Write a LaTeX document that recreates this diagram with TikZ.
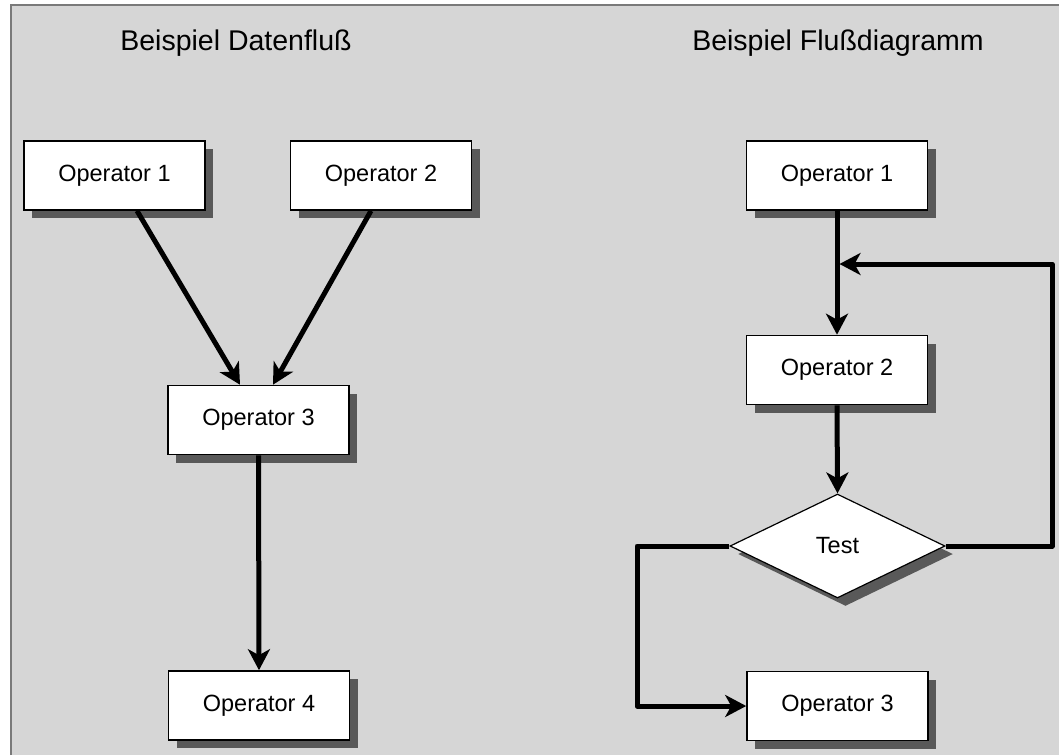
\documentclass[tikz,border=0pt]{standalone}
\usepackage{fontspec}
\setmainfont{Liberation Sans}
\usetikzlibrary{arrows.meta,shapes.geometric,shadows,calc}
\definecolor{panelgray}{HTML}{D6D6D6}
\definecolor{framegray}{HTML}{7A7A7A}
\definecolor{shadowgray}{HTML}{595959}
% box labels sit slightly below the geometric centre
\newcommand\boxlabel[1]{\raisebox{-2pt}{#1}}
\tikzset{
  opbox/.style={draw=black, line width=1.6pt, fill=white, rectangle,
    minimum width=181pt, minimum height=69pt, inner sep=0pt,
    font=\fontsize{23.5}{27}\selectfont,
    drop shadow={shadow xshift=8pt, shadow yshift=-8pt, fill=shadowgray, opacity=1}},
  testbox/.style={draw=black, line width=1.2pt, fill=white, diamond, aspect=2,
    minimum width=215pt, minimum height=104pt, inner sep=0pt,
    font=\fontsize{23.5}{27}\selectfont,
    drop shadow={shadow xshift=8pt, shadow yshift=-8pt, fill=shadowgray, opacity=1}},
  title/.style={font=\fontsize{28.5}{32}\selectfont},
  flow/.style={line width=5pt, line join=round,
    -{Stealth[length=21pt,width=22pt,inset=6pt]}}
}
\begin{document}
\begin{tikzpicture}[x=1pt,y=-1pt]
\useasboundingbox (0,0) rectangle (1059,755);
% panel
\fill[panelgray] (11,5) rectangle (1059,755);
\draw[framegray, line width=2pt] (11,755) -- (11,5) -- (1059,5);

% titles
\node[title] (t1) at (236,43) {Beispiel Datenfluß};
\node[title] (t2) at (838,43) {Beispiel Flußdiagramm};

% data flow
\node[opbox] (a1) at (114.5,175.5) {\boxlabel{Operator 1}};
\node[opbox] (a2) at (381,175.5) {\boxlabel{Operator 2}};
\node[opbox] (a3) at (258.5,420) {\boxlabel{Operator 3}};
\node[opbox] (a4) at (259,705.5) {\boxlabel{Operator 4}};

\draw[flow] ([xshift=22.5pt]a1.south) -- ([xshift=-18.5pt]a3.north);
\draw[flow] ([xshift=-10pt]a2.south) -- ([xshift=14.5pt]a3.north);
\draw[flow] (a3.south) -- (a4.north);

% flow chart
\node[opbox] (b1) at (837,175.5) {\boxlabel{Operator 1}};
\node[opbox] (b2) at (837,370) {\boxlabel{Operator 2}};
\node[testbox] (bt) at (837.5,546) {\boxlabel{Test}};
\node[opbox] (b3) at (837.5,706) {\boxlabel{Operator 3}};

\coordinate (loopR) at (1052,546);
\coordinate (loopT) at (1052,264);
\coordinate (loopIn) at (839.5,264);
\coordinate (elseL) at (637,546);
\coordinate (elseB) at (637,706);

\draw[flow] (b1.south) -- (b2.north);
\draw[flow] (b2.south) -- (bt.north);
\draw[flow] (bt.east) -- (loopR) -- (loopT) -- (loopIn);
\draw[flow] (bt.west) -- (elseL) -- (elseB) -- (b3.west);
\end{tikzpicture}
\end{document}
